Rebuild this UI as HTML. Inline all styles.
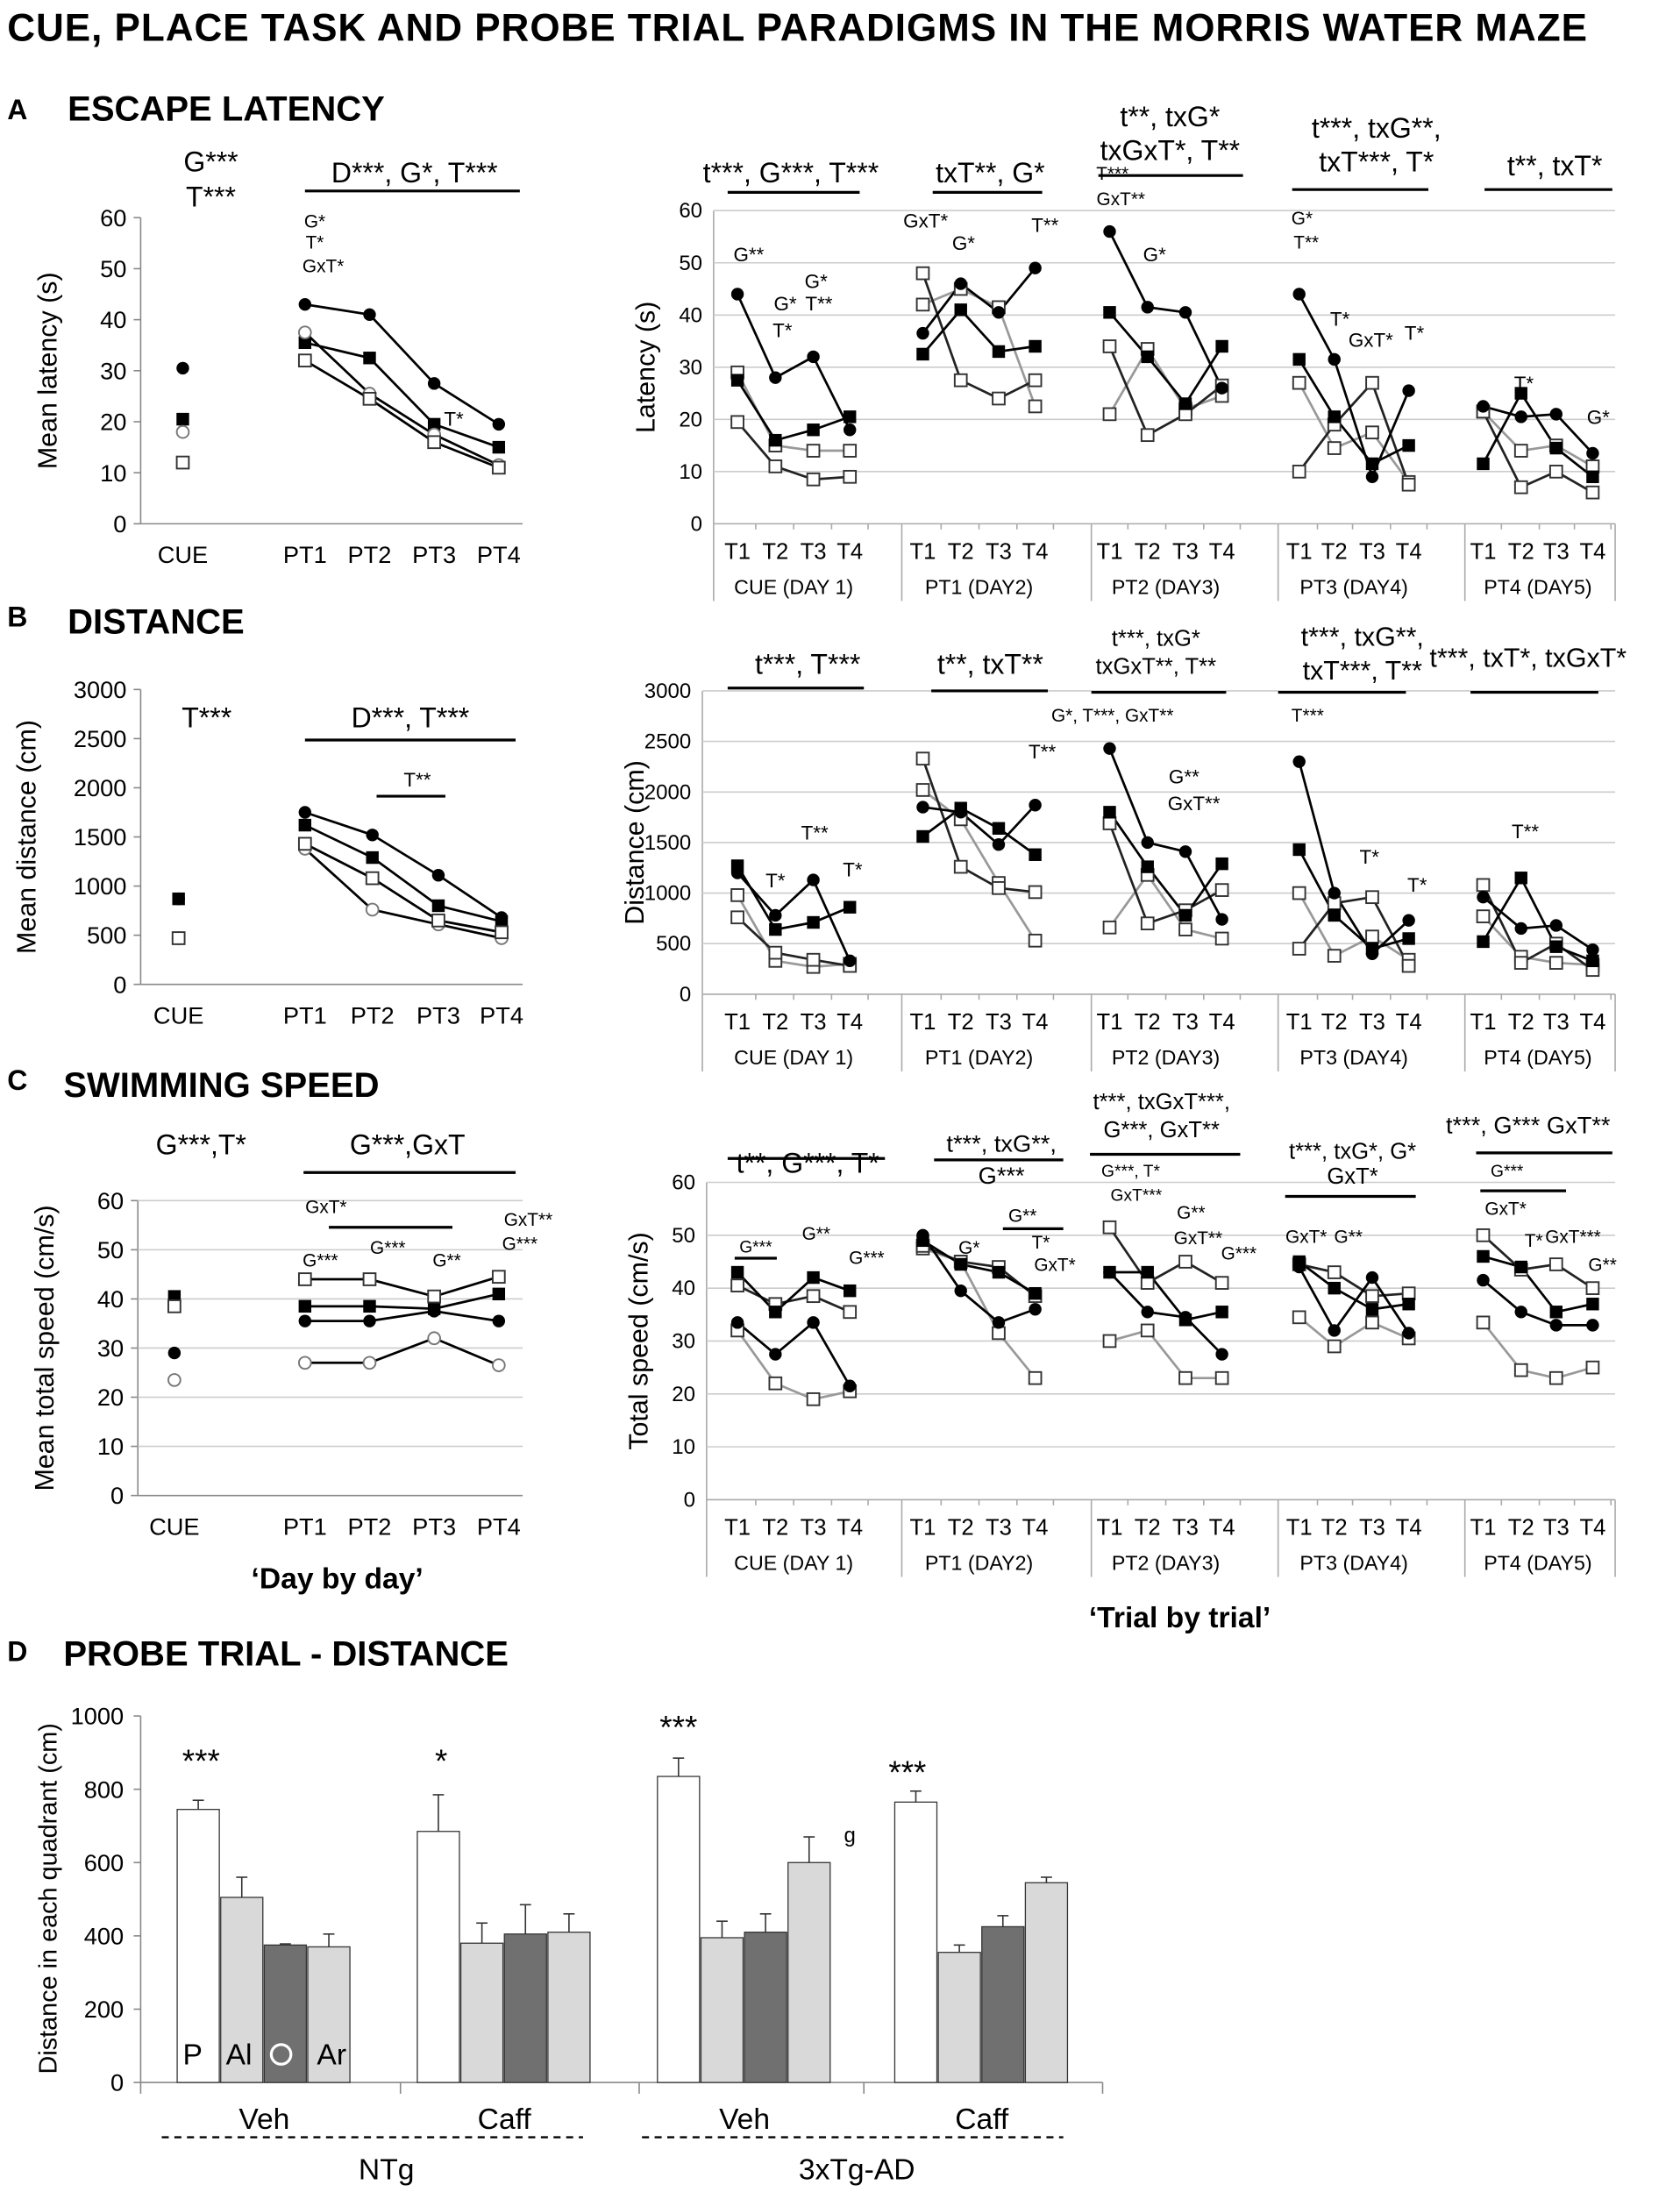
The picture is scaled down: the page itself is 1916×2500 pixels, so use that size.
<!DOCTYPE html>
<html><head><meta charset="utf-8"><style>
html,body{margin:0;padding:0;background:#fff}
svg{display:block;font-family:"Liberation Sans",Arial,sans-serif}
</style></head><body>
<svg id="fig" width="1916" height="2500" viewBox="0 0 1196 1561" xmlns="http://www.w3.org/2000/svg"></svg>
<script>
// ---------- DATA ----------
const seriesNames = ["fc","fs","oc","os"];
const dayLabels = ["PT1","PT2","PT3","PT4"];
const trialLabels = ["T1","T2","T3","T4"];
const groupLabels = ["CUE (DAY 1)","PT1 (DAY2)","PT2 (DAY3)","PT3 (DAY4)","PT4 (DAY5)"];
// A latency
const latCue = [30.5,20.5,18,12];
const latDay_fc = [43,41,27.5,19.5];
const latDay_fs = [35.5,32.5,19.5,15];
const latDay_oc = [37.5,25.5,17.5,11.5];
const latDay_os = [32,24.5,16,11];
const latTr_fc = [44,28,32,18, 36.5,46,40.5,49, 56,41.5,40.5,26, 44,31.5,9,25.5, 22.5,20.5,21,13.5];
const latTr_fs = [27.5,16,18,20.5, 32.5,41,33,34, 40.5,32,23,34, 31.5,20.5,11.5,15, 11.5,25,14.5,9];
const latTr_oc = [29,15,14,14, 42,45,41.5,22.5, 21,33.5,22,24.5, 27,14.5,17.5,8, 21.5,14,15,11];
const latTr_os = [19.5,11,8.5,9, 48,27.5,24,27.5, 34,17,21,26.5, 10,19,27,7.5, 21.5,7,10,6];
// B distance
const distCue = [870,870,470,470];
const distDay_fc = [1750,1520,1110,680];
const distDay_fs = [1620,1290,800,640];
const distDay_oc = [1380,760,610,470];
const distDay_os = [1430,1080,650,530];
const distTr_fc = [1200,780,1130,330, 1850,1800,1480,1870, 2430,1500,1410,740, 2300,1000,400,730, 960,650,680,440];
const distTr_fs = [1270,640,710,860, 1560,1840,1640,1380, 1800,1260,780,1290, 1430,780,450,550, 520,1150,470,330];
const distTr_oc = [980,330,270,300, 2020,1730,1100,530, 660,1180,640,550, 1000,380,570,340, 770,370,310,290];
const distTr_os = [760,410,340,280, 2330,1260,1050,1010, 1690,700,830,1030, 450,900,960,280, 1080,310,500,240];
// C speed
const spdCue = [29,40.5,23.5,38.5];
const spdDay_fc = [35.5,35.5,37.5,35.5];
const spdDay_fs = [38.5,38.5,38,41];
const spdDay_oc = [27,27,32,26.5];
const spdDay_os = [44,44,40.5,44.5];
const spdTr_fc = [33.5,27.5,33.5,21.5, 50,39.5,33.5,36, 43,35.5,34.5,27.5, 44,32,42,31.5, 41.5,35.5,33,33];
const spdTr_fs = [43,35.5,42,39.5, 49,44.5,43,39, 43,43,34,35.5, 45,40,36,37, 46,44,35.5,37];
const spdTr_oc = [32,22,19,20.5, 47.5,45,31.5,23, 30,32,23,23, 34.5,29,33.5,30.5, 33.5,24.5,23,25];
const spdTr_os = [40.5,37,38.5,35.5, 48,45,44,38.5, 51.5,41,45,41, 44.5,43,38.5,39, 50,43.5,44.5,40];
// D probe
const probeGroups = ["Veh","Caff","Veh","Caff"];
const probeP  = [745,685,835,765];
const probeAl = [505,380,395,355];
const probeO  = [375,405,410,425];
const probeAr = [370,410,600,545];
const errP  = [25,100,50,30];
const errAl = [55,55,45,20];
const errO  = [3,80,50,30];
const errAr = [35,50,70,15];
const probeTicks = [0,200,400,600,800,1000];

// ---------- helpers ----------
const NS="http://www.w3.org/2000/svg";
const svg=document.getElementById("fig");
function el(tag,attrs,parent){const e=document.createElementNS(NS,tag);for(const k in attrs)e.setAttribute(k,attrs[k]);(parent||svg).appendChild(e);return e;}
function txt(x,y,s,size,opts){opts=opts||{};const t=el("text",{x:x,y:y,"font-size":size,"text-anchor":opts.anchor||"middle","font-weight":opts.bold?"bold":"normal",fill:opts.fill||"#000"},opts.parent);t.textContent=s;if(opts.rot)t.setAttribute("transform","rotate(-90 "+x+" "+y+")");return t;}
function line(x1,y1,x2,y2,w,c,parent){return el("line",{x1:x1,y1:y1,x2:x2,y2:y2,stroke:c||"#000","stroke-width":w||1},parent);}
function marker(type,x,y,g){
  if(type==="fc"){const m=el("circle",{cx:x,cy:y,r:4.5,fill:"#000"},g);}
  else if(type==="fs"){const m=el("rect",{x:x-4.5,y:y-4.5,width:9,height:9,fill:"#000"},g);}
  else if(type==="oc"){const m=el("circle",{cx:x,cy:y,r:4.3,fill:"#fff",stroke:"#777","stroke-width":1.2},g);}
  else {const m=el("rect",{x:x-4.3,y:y-4.3,width:8.6,height:8.6,fill:"#fff",stroke:"#333","stroke-width":1.2},g);}
}
const lineColor={fc:"#000",fs:"#000",oc:"#999",os:"#222"};
function polyline(xs,ys,c,g){let d="";for(let i=0;i<xs.length;i++)d+=(i?"L":"M")+xs[i]+" "+ys[i];el("path",{d:d,fill:"none",stroke:c,"stroke-width":1.7},g);}

// title
const title=txt(5,29,"CUE, PLACE TASK AND PROBE TRIAL PARADIGMS IN THE MORRIS WATER MAZE",27.5,{anchor:"start",bold:true});

title.setAttribute("textLength","1125");

// ---------- day-by-day panel ----------
function dayPanel(name,cfg){
  const g=el("g",{});
  const y=v=>cfg.y0-(v-cfg.min)/(cfg.max-cfg.min)*(cfg.y0-cfg.y1);
  line(cfg.ax,cfg.y1,cfg.ax,cfg.y0,1,"#888",g);
  line(cfg.ax,cfg.y0,cfg.xEnd,cfg.y0,1,"#888",g);
  cfg.ticks.forEach(v=>{
    if(cfg.grid&&v>cfg.min)line(cfg.ax,y(v),cfg.xEnd,y(v),1,"#ccc",g);
    line(cfg.ax-5,y(v),cfg.ax,y(v),1,"#888",g);
    txt(cfg.ax-10,y(v)+6,String(v),17,{anchor:"end",parent:g});
  });
  const yl=txt(cfg.ax-(cfg.ylabOff||55),(cfg.y0+cfg.y1)/2,cfg.ylabel,19,{rot:true,parent:g});
  
  txt(cfg.cueX,cfg.y0+28,"CUE",17,{parent:g});
  dayLabels.forEach((l,i)=>txt(cfg.xs[i],cfg.y0+28,l,17,{parent:g}));
  const data=cfg.data;
  seriesNames.forEach((s)=>{
    polyline(cfg.xs,data[s].map(y),"#000",g);
  });
  seriesNames.forEach((s,si)=>{
    marker(s,cfg.cueX,y(cfg.cue[si]),g);
    data[s].forEach((v,i)=>marker(s,cfg.xs[i],y(v),g));
  });
}
// ---------- trial panel ----------
const groupX=[[525,552,579,605],[657,684,711,737],[790,817,844,870],[925,950,977,1003],[1056,1083,1108,1134]];
function trialPanel(name,cfg){
  const g=el("g",{});
  const y=v=>cfg.y0-(v-cfg.min)/(cfg.max-cfg.min)*(cfg.y0-cfg.y1);
  line(cfg.ax,cfg.y1,cfg.ax,cfg.y0+55,1,"#aaa",g);
  line(cfg.ax,cfg.y0,1150,cfg.y0,1,"#aaa",g);
  cfg.ticks.forEach(v=>{
    if(v>cfg.min)line(cfg.ax,y(v),1150,y(v),1,"#ccc",g);
    txt(cfg.ax-8,y(v)+5,String(v),15,{anchor:"end",parent:g});
  });
  [642,777,910,1043,1150].forEach(x=>line(x,cfg.y0,x,cfg.y0+55,1,"#aaa",g));
  const yl=txt(cfg.ax-42,(cfg.y0+cfg.y1)/2,cfg.ylabel,19,{rot:true,parent:g});
  
  groupX.forEach((xs,gi)=>{
    xs.forEach((x,i)=>{txt(x,cfg.y0+25,trialLabels[i],16,{parent:g});line(x+13,cfg.y0,x+13,cfg.y0+4,1,"#aaa",g);});
    txt((xs[0]+xs[3])/2,cfg.y0+50,groupLabels[gi],14.5,{parent:g});
  });
  const order=["oc","os","fs","fc"];
  order.forEach(s=>{
    groupX.forEach((xs,gi)=>{
      polyline(xs,cfg.data[s].slice(gi*4,gi*4+4).map(y),lineColor[s],g);
    });
  });
  order.forEach(s=>{
    groupX.forEach((xs,gi)=>{
      cfg.data[s].slice(gi*4,gi*4+4).forEach((v,i)=>marker(s==="oc"?"os":s,xs[i],y(v),g));
    });
  });
}
function ann(items,sz){items.forEach(a=>{const t=txt(a[0],a[1],a[2],a[3]||sz||15);});}
function bars(items){items.forEach(b=>line(b[0],b[2],b[1],b[2],b[3]||2,"#000"));}

// ===== Panel A =====
txt(5,85,"A",20,{anchor:"start",bold:true});
txt(48,86,"ESCAPE LATENCY",25,{anchor:"start",bold:true});
dayPanel("latency-day-chart",{y0:373,y1:155,min:0,max:60,ticks:[0,10,20,30,40,50,60],ax:100,xEnd:372,cueX:130,xs:[217,263,309,355],ylabel:"Mean latency (s)",ylabOff:60,cue:latCue,data:{fc:latDay_fc,fs:latDay_fs,oc:latDay_oc,os:latDay_os}});
trialPanel("latency-trial-chart",{y0:373,y1:150,min:0,max:60,ticks:[0,10,20,30,40,50,60],ax:508,ylabel:"Latency (s)",data:{fc:latTr_fc,fs:latTr_fs,oc:latTr_oc,os:latTr_os}});
ann([[150,122,"G***",20],[150,147,"T***",20],[295,130,"D***, G*, T***",20],
 [224,162,"G*",13],[224,177,"T*",13],[230,194,"GxT*",13],[323,303,"T*",14],
 [563,130,"t***, G***, T***",20],[705,130,"txT**, G*",20],[833,90,"t**, txG*",20],[833,114,"txGxT*, T**",20],[980,98,"t***, txG**,",20],[980,122,"txT***, T*",20],[1107,125,"t**, txT*",20],
 [533,186,"G**",14],[559,221,"G*",14],[557,240,"T*",14],[581,205,"G*",14],[583,221,"T**",14],[659,162,"GxT*",14],[686,178,"G*",14],[744,165,"T**",14],
 [792,128,"T***",13],[798,146,"GxT**",13],[822,186,"G*",14],[927,160,"G*",13],[930,177,"T**",13],[954,232,"T*",14],[976,247,"GxT*",14],[1007,242,"T*",14],[1085,278,"T*",14],[1138,302,"G*",14]]);
bars([[217,370,136],[518,612,137],[664,742,137],[1057,1148,135],[920,1017,135],[782,885,125]]);

// ===== Panel B =====
txt(5,446,"B",20,{anchor:"start",bold:true});
txt(48,451,"DISTANCE",25,{anchor:"start",bold:true});
dayPanel("distance-day-chart",{y0:701,y1:491,min:0,max:3000,ticks:[0,500,1000,1500,2000,2500,3000],ax:100,xEnd:372,cueX:127,xs:[217,265,312,357],ylabel:"Mean distance (cm)",ylabOff:75,cue:distCue,data:{fc:distDay_fc,fs:distDay_fs,oc:distDay_oc,os:distDay_os}});
trialPanel("distance-trial-chart",{y0:708,y1:492,min:0,max:3000,ticks:[0,500,1000,1500,2000,2500,3000],ax:500,ylabel:"Distance (cm)",data:{fc:distTr_fc,fs:distTr_fs,oc:distTr_oc,os:distTr_os}});
ann([[147,518,"T***",20],[292,518,"D***, T***",20],[297,560,"T**",14],
 [575,480,"t***, T***",20],[705,480,"t**, txT**",20],[823,460,"t***, txG*",16],[823,480,"txGxT**, T**",16],[970,460,"t***, txG**,",19],[970,484,"txT***, T**",19],[1088,475,"t***, txT*, txGxT*",19],
 [552,632,"T*",14],[580,598,"T**",14],[607,624,"T*",14],[742,540,"T**",14],[792,514,"G*, T***, GxT**",13],[843,558,"G**",14],[850,577,"GxT**",14],[931,514,"T***",13],[975,615,"T*",14],[1009,635,"T*",14],[1086,597,"T**",14]]);
bars([[217,367,527],[268,317,567],[518,615,490],[663,746,492],[777,873,493],[910,1001,493],[1047,1138,493]]);

// ===== Panel C =====
txt(5,776,"C",20,{anchor:"start",bold:true});
txt(45,781,"SWIMMING SPEED",25,{anchor:"start",bold:true});
dayPanel("speed-day-chart",{y0:1065,y1:855,min:0,max:60,ticks:[0,10,20,30,40,50,60],ax:98,xEnd:372,cueX:124,xs:[217,263,309,355],ylabel:"Mean total speed (cm/s)",ylabOff:60,grid:true,cue:spdCue,data:{fc:spdDay_fc,fs:spdDay_fs,oc:spdDay_oc,os:spdDay_os}});
trialPanel("speed-trial-chart",{y0:1068,y1:842,min:0,max:60,ticks:[0,10,20,30,40,50,60],ax:503,ylabel:"Total speed (cm/s)",data:{fc:spdTr_fc,fs:spdTr_fs,oc:spdTr_oc,os:spdTr_os}});
ann([[143,822,"G***,T*",20],[290,822,"G***,GxT",20],[232,864,"GxT*",13],[228,902,"G***",13],[276,893,"G***",13],[318,902,"G**",13],[376,873,"GxT**",13],[370,890,"G***",13],
 [575,835,"t**, G***, T*",20],[713,820,"t***, txG**,",17],[713,843,"G***",17],[827,790,"t***, txGxT***,",16],[827,810,"G***, GxT**",16],[963,825,"t***, txG*, G*",16],[963,843,"GxT*",16],[1088,807,"t***, G*** GxT**",17],
 [538,892,"G***",12],[581,883,"G**",13],[617,900,"G***",13],[690,893,"G*",13],[728,870,"G**",13],[741,889,"T*",13],[751,905,"GxT*",13],[805,838,"G***, T*",12],[809,855,"GxT***",12],[848,868,"G**",13],[853,886,"GxT**",13],[882,897,"G***",13],[930,885,"GxT*",13],[960,885,"G**",13],[1073,838,"G***",12],[1072,865,"GxT*",13],[1092,888,"T*",13],[1120,885,"GxT***",13],[1141,905,"G**",13]]);
bars([[216,367,835],[234,322,874],[518,630,825],[665,757,826],[776,883,822],[915,1008,852],[1051,1148,821],[1054,1115,848],[523,553,896],[714,757,875]]);
txt(240,1131,"\u2018Day by day\u2019",21,{bold:true});
txt(840,1159,"\u2018Trial by trial\u2019",21,{bold:true});

// ===== Panel D =====
txt(5,1183,"D",20,{anchor:"start",bold:true});
txt(45,1186,"PROBE TRIAL - DISTANCE",25,{anchor:"start",bold:true});
(function(){
  const g=el("g",{});
  const y0=1483,y1=1222,ax=100;
  const y=v=>y0-v/1000*(y0-y1);
  line(ax,y1,ax,y0,1,"#888",g);line(ax,y0,785,y0,1,"#888",g);
  probeTicks.forEach(v=>{line(ax-5,y(v),ax,y(v),1,"#888",g);txt(ax-12,y(v)+6,String(v),17,{anchor:"end",parent:g});});
  [ax,285,455,615,785].forEach(x=>line(x,y0,x,y0+8,1,"#888",g));
  const yl=txt(40,1352,"Distance in each quadrant (cm)",18,{rot:true,parent:g});
  
  const starts=[126,297,468,637];
  const series=[[probeP,errP,"#fff"],[probeAl,errAl,"#d9d9d9"],[probeO,errO,"#707070"],[probeAr,errAr,"#d9d9d9"]];
  probeGroups.forEach((gl,gi)=>{
    series.forEach((s,si)=>{
      const x=starts[gi]+si*31,v=s[0][gi],e=s[1][gi];
      const r=el("rect",{x:x,y:y(v),width:30,height:y0-y(v),fill:s[2],stroke:"#333","stroke-width":0.8},g);
      
      line(x+15,y(v),x+15,y(v+e),1,"#333",g);line(x+11,y(v+e),x+19,y(v+e),1,"#333",g);
    });
    txt(starts[gi]+62,1516,gl,21,{parent:g});
  });
  [["P",137],["Al",170],["Ar",236]].forEach(a=>txt(a[1],1470,a[0],21,{parent:g}));
  el("circle",{cx:200,cy:1463,r:7,fill:"none",stroke:"#fff","stroke-width":2},g);
  line(115,1522,415,1522,1.5,"#000",g).setAttribute("stroke-dasharray","5 4");
  line(457,1522,757,1522,1.5,"#000",g).setAttribute("stroke-dasharray","5 4");
  txt(275,1552,"NTg",21,{parent:g});txt(610,1552,"3xTg-AD",21,{parent:g});
  ann([[143,1262,"***",23],[314,1262,"*",23],[483,1238,"***",23],[605,1312,"g",15],[646,1270,"***",23]]);
})();
</script>
</body></html>
